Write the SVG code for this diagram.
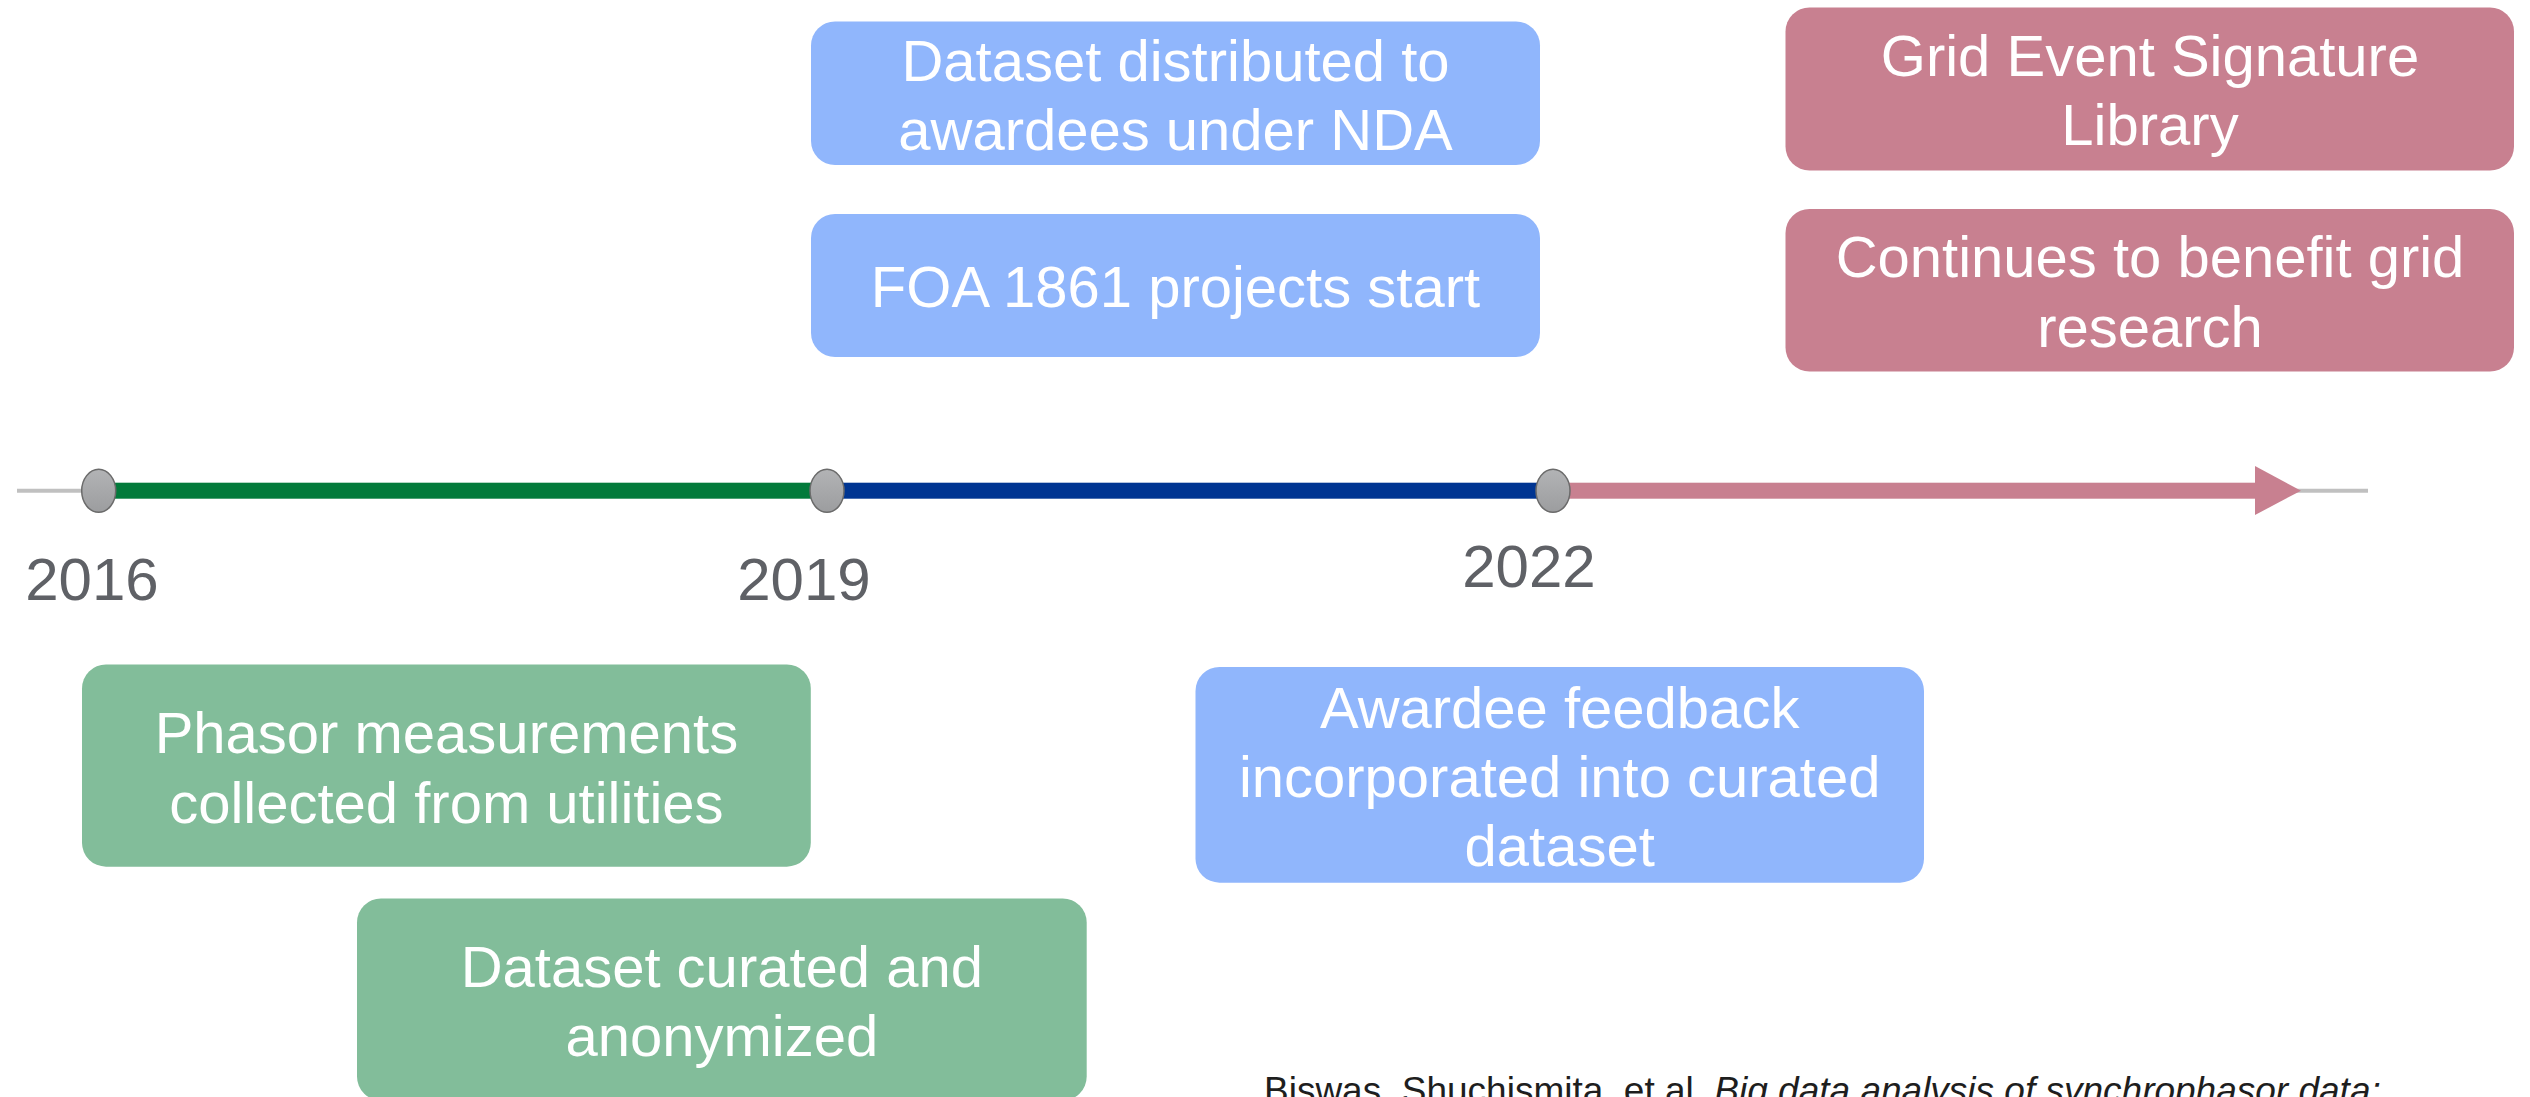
<svg xmlns="http://www.w3.org/2000/svg" width="2530" height="1097" viewBox="0 0 2530 1097">
<defs>
<style>
.box-text{font-family:"Liberation Sans",Arial,sans-serif;font-size:58px;fill:#ffffff;text-anchor:middle}
.year{font-family:"Liberation Sans",Arial,sans-serif;font-size:60px;fill:#5f6166;text-anchor:middle}
.cite{font-family:"Liberation Sans",Arial,sans-serif;font-size:37px;fill:#1e1e1e}
.blue{fill:#90b6fc}
.green{fill:#82bd9a}
.pink{fill:#c88090}
.dot{fill:url(#dotGrad);stroke:#6b6b6b;stroke-width:1.5}
</style>
<linearGradient id="dotGrad" x1="0" y1="0" x2="0" y2="1">
<stop offset="0" stop-color="#b2b3b5"/>
<stop offset="1" stop-color="#9c9d9f"/>
</linearGradient>
</defs>
<rect width="2530" height="1097" fill="#ffffff"/>

<g id="connectors">
<line x1="17" y1="490.7" x2="2368" y2="490.7" stroke="#c0c0c0" stroke-width="4"/>
<rect x="99" y="482.7" width="728" height="16" fill="#027a3b"/>
<rect x="827" y="482.7" width="726" height="16" fill="#003592"/>
<rect x="1553" y="482.7" width="703" height="16" fill="#c88090"/>
<polygon points="2255,466 2301,490.7 2255,515" fill="#c88090"/>
</g>

<g id="milestone-2016">
<ellipse class="dot" cx="98.7" cy="490.8" rx="17" ry="21.5"/>
<text class="year" x="92" y="600">2016</text>
</g>
<g id="milestone-2019">
<ellipse class="dot" cx="827" cy="490.8" rx="17" ry="21.5"/>
<text class="year" x="804" y="600">2019</text>
</g>
<g id="milestone-2022">
<ellipse class="dot" cx="1553" cy="490.8" rx="17" ry="21.5"/>
<text class="year" x="1529" y="587">2022</text>
</g>

<g id="node-distributed">
<rect class="blue" x="811" y="21.5" width="729" height="143.5" rx="24" ry="24"/>
<text class="box-text" x="1175.5" y="80.7">Dataset distributed to</text>
<text class="box-text" x="1175.5" y="150">awardees under NDA</text>
</g>
<g id="node-foa">
<rect class="blue" x="811" y="214" width="729" height="143" rx="24" ry="24"/>
<text class="box-text" x="1175.5" y="306.7">FOA 1861 projects start</text>
</g>
<g id="node-library">
<rect class="pink" x="1785.5" y="7.5" width="728.5" height="163" rx="24" ry="24"/>
<text class="box-text" x="2150" y="76">Grid Event Signature</text>
<text class="box-text" x="2150" y="145.3">Library</text>
</g>
<g id="node-continues">
<rect class="pink" x="1785.5" y="209" width="728.5" height="162.5" rx="24" ry="24"/>
<text class="box-text" x="2150" y="277.3">Continues to benefit grid</text>
<text class="box-text" x="2150" y="346.7">research</text>
</g>
<g id="node-phasor">
<rect class="green" x="82" y="664.5" width="728.8" height="202.2" rx="24" ry="24"/>
<text class="box-text" x="446.4" y="753.3">Phasor measurements</text>
<text class="box-text" x="446.4" y="822.7">collected from utilities</text>
</g>
<g id="node-curated">
<rect class="green" x="357" y="898.5" width="729.7" height="202" rx="24" ry="24"/>
<text class="box-text" x="721.8" y="986.7">Dataset curated and</text>
<text class="box-text" x="721.8" y="1056">anonymized</text>
</g>
<g id="node-feedback">
<rect class="blue" x="1195.5" y="667" width="728.5" height="215.7" rx="24" ry="24"/>
<text class="box-text" x="1559.7" y="727.7">Awardee feedback</text>
<text class="box-text" x="1559.7" y="796.7">incorporated into curated</text>
<text class="box-text" x="1559.7" y="866">dataset</text>
</g>

<g id="citation">
<text class="cite" x="1264" y="1103">Biswas, Shuchismita, et al. <tspan font-style="italic">Big data analysis of synchrophasor data:</tspan></text>
</g>
</svg>
